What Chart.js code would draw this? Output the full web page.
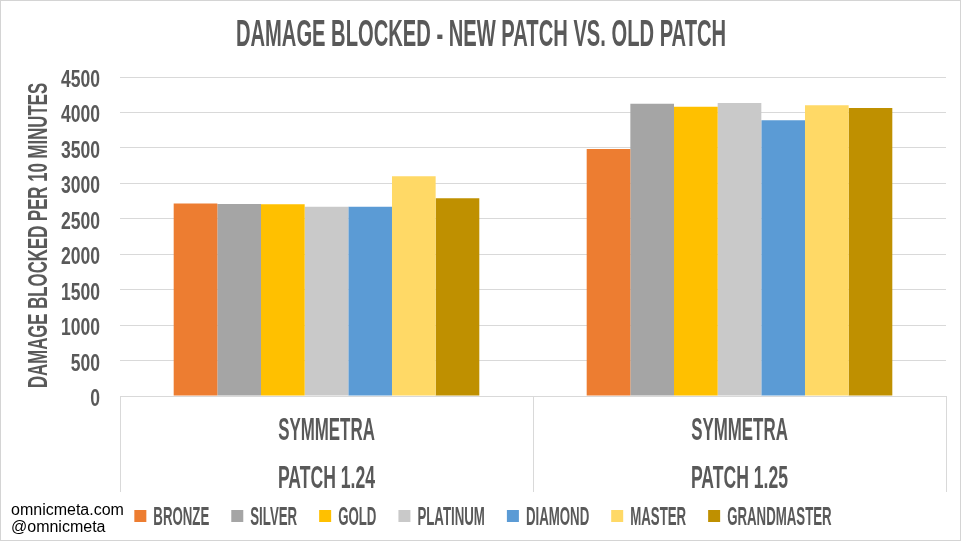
<!DOCTYPE html>
<html>
<head>
<meta charset="utf-8">
<script src="https://cdn.jsdelivr.net/npm/chart.js@4"></script>
<style>
  html, body { margin: 0; padding: 0; background: #fff; }
  canvas { display: block; }
</style>
</head>
<body>
<canvas id="chart" width="961" height="541"></canvas>
<script>
// data
const heroes = ["SYMMETRA", "SYMMETRA"];
const patches = ["PATCH 1.24", "PATCH 1.25"];
const ranks = ["BRONZE", "SILVER", "GOLD", "PLATINUM", "DIAMOND", "MASTER", "GRANDMASTER"];
const bronze = [2717, 3484];
const silver = [2708, 4124];
const gold = [2706, 4082];
const platinum = [2670, 4134];
const diamond = [2671, 3890];
const master = [3099, 4102];
const grandmaster = [2788, 4063];
const yTicks = [0, 500, 1000, 1500, 2000, 2500, 3000, 3500, 4000, 4500];

const rankColors = ["#ED7D31", "#A5A5A5", "#FFC000", "#C9C9C9", "#5B9BD5", "#FFD966", "#BF9000"];
const seriesValues = [bronze, silver, gold, platinum, diamond, master, grandmaster];

// the original uses a tall condensed display face; fake it by squashing a bold sans
const FONT = "'Liberation Sans', Arial, sans-serif";
const TEXT = "#595959";
const GRID = "#D9D9D9";

function squashText(c, str, x, y, size, sx, align, angle) {
  c.save();
  c.translate(x, y);
  if (angle) c.rotate(angle);
  c.scale(sx, 1);
  c.font = "bold " + size + "px " + FONT;
  c.textAlign = align || "left";
  c.textBaseline = "alphabetic";
  c.fillText(str, 0, 0);
  c.restore();
}

// all the text (title, axis labels, legend) plus frame and credit
const textLayer = {
  id: "textLayer",
  afterDraw(chart) {
    const c = chart.ctx;
    const area = chart.chartArea;
    const xs = chart.scales.x;
    const ys = chart.scales.y;
    c.save();
    c.fillStyle = TEXT;

    // title
    squashText(c, "DAMAGE BLOCKED - NEW PATCH VS. OLD PATCH", 481, 46, 36, 0.56, "center");

    // y axis title
    squashText(c, "DAMAGE BLOCKED PER 10 MINUTES", 47, (area.top + area.bottom) / 2 - 1, 28, 0.6, "center", -Math.PI / 2);

    // y tick labels
    ys.ticks.forEach(t => {
      squashText(c, String(t.value), 100, ys.getPixelForValue(t.value) + 10, 24, 0.73, "right");
    });

    // category labels, two rows
    chart.data.labels.forEach((lab, i) => {
      const px = xs.getPixelForTick(i);
      squashText(c, lab[0], px, 440, 31, 0.545, "center");
      squashText(c, lab[1], px, 488, 32, 0.55, "center");
    });

    // legend
    const sets = chart.data.datasets;
    const lsize = 25, lsx = 0.53, box = 12, gapText = 19, gapItem = 22;
    c.font = "bold " + lsize + "px " + FONT;
    const widths = sets.map(d => gapText + c.measureText(d.label).width * lsx);
    const total = widths.reduce((a, b) => a + b, 0) + gapItem * (sets.length - 1);
    let lx = 483 - total / 2;
    sets.forEach((d, i) => {
      c.fillStyle = d.backgroundColor;
      c.fillRect(lx, 510, box, box);
      c.fillStyle = TEXT;
      squashText(c, d.label, lx + gapText, 525, lsize, lsx, "left");
      lx += widths[i] + gapItem;
    });

    // credit
    c.fillStyle = "#000";
    c.font = "16px " + FONT;
    c.textAlign = "left";
    c.textBaseline = "alphabetic";
    c.fillText("omnicmeta.com", 11, 515);
    c.fillText("@omnicmeta", 11, 532);

    // outer frame
    c.strokeStyle = "#D4D4D4";
    c.lineWidth = 1;
    c.strokeRect(0.5, 0.5, chart.width - 1, chart.height - 1);
    c.restore();
  }
};

const ctx = document.getElementById("chart").getContext("2d");
const chart = new Chart(ctx, {
  type: "bar",
  data: {
    labels: heroes.map((h, i) => [h, patches[i]]),
    datasets: ranks.map((r, i) => ({
      label: r,
      data: seriesValues[i],
      backgroundColor: rankColors[i],
      borderWidth: 0
    }))
  },
  options: {
    responsive: false,
    animation: false,
    devicePixelRatio: 1,
    layout: { padding: { left: 120, right: 15, top: 77, bottom: 49 } },
    datasets: {
      bar: { categoryPercentage: 0.74, barPercentage: 1.0 }
    },
    plugins: {
      title: { display: false },
      legend: { display: false },
      tooltip: { enabled: false }
    },
    scales: {
      x: {
        grid: {
          display: true,
          offset: true,
          drawOnChartArea: false,
          drawTicks: true,
          tickLength: 96,
          color: GRID
        },
        border: { display: true, color: GRID },
        ticks: { display: false }
      },
      y: {
        min: 0,
        max: 4500,
        afterBuildTicks: (axis) => { axis.ticks = yTicks.map(v => ({ value: v })); },
        grid: { color: GRID, drawTicks: false },
        border: { display: false },
        ticks: { display: false }
      }
    }
  },
  plugins: [textLayer]
});
</script>
</body>
</html>
